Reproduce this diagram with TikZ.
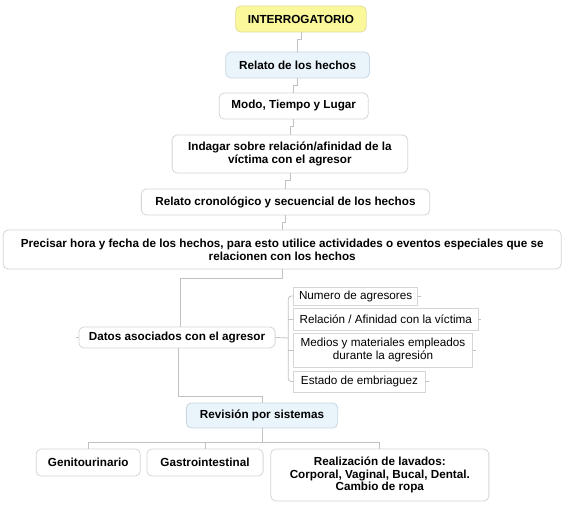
\documentclass[tikz,border=0pt]{standalone}
\usepackage{fontspec}
\setmainfont{Liberation Sans}
\begin{document}
\begin{tikzpicture}[x=1pt,y=-1pt,
  box/.style={draw=boxline, rounded corners=5pt, fill=white, line width=0.8pt,
    font=\fontsize{11.7}{12.7}\selectfont\bfseries, align=center, inner sep=0pt},
  yel/.style={box, fill=yelfill, draw=yelline},
  blu/.style={box, fill=blufill, draw=bluline},
  sub/.style={draw=boxline, line width=0.7pt, fill=white,
    font=\fontsize{11.7}{12.7}\selectfont, align=center, inner sep=0pt},
  link/.style={draw=linkc, line width=0.8pt}]
\definecolor{boxline}{HTML}{D6D6D6}
\definecolor{linkc}{HTML}{C2C2C2}
\definecolor{yelfill}{HTML}{FBF89C}
\definecolor{yelline}{HTML}{E2DE98}
\definecolor{blufill}{HTML}{EAF4FB}
\definecolor{bluline}{HTML}{C9D8E4}
\useasboundingbox[fill=white] (0,0) rectangle (573,510);

\node[yel, minimum width=130.5pt, minimum height=26pt] (a) at (300.9,19) {INTERROGATORIO};
\node[blu, minimum width=143.6pt, minimum height=26pt] (b) at (297.6,65) {Relato de los hechos};
\node[box, minimum width=149.1pt, minimum height=26pt] (c) at (293.7,106) {Modo, Tiempo y Lugar};
\node[box, minimum width=235.6pt, minimum height=38pt] (d) at (289.9,154) {Indagar sobre relación/afinidad de la\\víctima con el agresor};
\node[box, minimum width=288.3pt, minimum height=26pt] (e) at (285.5,202) {Relato cronológico y secuencial de los hechos};
\node[box, minimum width=558pt, minimum height=39pt] (f) at (282.2,249.5) {Precisar hora y fecha de los hechos, para esto utilice actividades o eventos especiales que se\\relacionen con los hechos};

\node[box, minimum width=196.2pt, minimum height=21pt] (g) at (177,337.5) {Datos asociados con el agresor};

\node[sub, minimum width=123.9pt, minimum height=18pt] (s1) at (355.6,296) {Numero de agresores};
\node[sub, minimum width=184.2pt, minimum height=22pt] (s2) at (385.8,319) {Relación / Afinidad con la víctima};
\node[sub, minimum width=178.7pt, minimum height=34pt] (s3) at (383,350) {Medios y materiales empleados\\durante la agresión};
\node[sub, minimum width=131.5pt, minimum height=21pt] (s4) at (359.5,381.5) {Estado de embriaguez};

\node[blu, minimum width=151.3pt, minimum height=25pt] (h) at (262,415.5) {Revisión por sistemas};

\node[box, minimum width=104.1pt, minimum height=27pt] (i1) at (88.2,462.5) {Genitourinario};
\node[box, minimum width=116.2pt, minimum height=27pt] (i2) at (205,462.5) {Gastrointestinal};
\node[box, minimum width=218.1pt, minimum height=52pt] (i3) at (379.8,475) {Realización de lavados:\\Corporal, Vaginal, Bucal, Dental.\\Cambio de ropa};

% main chain
\draw[link] (a.south) -- ++(0,7) -| (b.north);
\draw[link] (b.south) -- ++(0,7) -| (c.north);
\draw[link] (c.south) -- ++(0,7) -| (d.north);
\draw[link] (d.south) -- ++(0,7) -| (e.north);
\draw[link] (e.south) -- ++(0,7) -| (f.north);
\draw[link] (f.south) -- ++(0,9) -| ([xshift=3.8pt]g.north);
\draw[link] ([xshift=1.6pt]g.south) -- ++(0,48) -| (h.north);
\draw[link] (g.west) -- ++(-3,0);

% sub items
\coordinate (br) at (288.3,338);
\draw[link] (g.east) -- (br);
\draw[link, rounded corners=3pt] (s1.west) -- (s1.west -| br) -- (s4.west -| br) -- (s4.west);
\foreach \s in {s2,s3} \draw[link] (\s.west) -- (\s.west -| br);
\foreach \s in {s1,s2,s3,s4} \draw[link] (\s.east) -- ++(3,0);

% bottom row
\draw[link] (h.south) -- ++(0,14) coordinate (hb);
\draw[link] (hb -| i1.north) -- (hb -| i3.north);
\foreach \n in {i1,i2,i3} \draw[link] (hb -| \n.north) -- (\n.north);
\end{tikzpicture}
\end{document}
